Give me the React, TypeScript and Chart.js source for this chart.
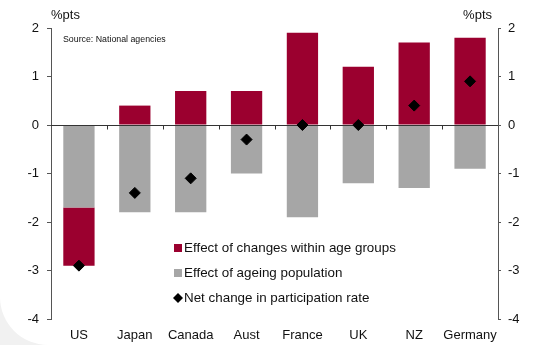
import React, { useEffect, useRef } from "react";
import { Chart, registerables } from "chart.js";

Chart.register(...registerables);

const countries = ["US", "Japan", "Canada", "Aust", "France", "UK", "NZ", "Germany"];
const withinAgeGroups = [-1.2, 0.4, 0.7, 0.7, 1.9, 1.2, 1.7, 1.8];
const ageingPopulation = [-1.7, -1.8, -1.8, -1.0, -1.9, -1.2, -1.3, -0.9];
const netChange = [-2.9, -1.4, -1.1, -0.3, 0.0, 0.0, 0.4, 0.9];
const yTicks = [-4, -3, -2, -1, 0, 1, 2];

const RED = "#9b002f";
const GREY = "#a6a6a6";
const FONT = "'Liberation Sans', Arial, sans-serif";

const legendItems = [
  { label: "Effect of changes within age groups", color: RED, kind: "square" },
  { label: "Effect of ageing population", color: GREY, kind: "square" },
  { label: "Net change in participation rate", color: "#000", kind: "diamond" },
];

const decorPlugin = {
  id: "decor",
  beforeDatasetDraw(chart: any, args: any) {
    if (args.index !== 0) return;
    const { ctx, chartArea, scales } = chart;
    const y0 = Math.round(scales.y.getPixelForValue(0)) + 0.5;
    ctx.save();
    ctx.strokeStyle = "#333";
    ctx.lineWidth = 1;
    ctx.beginPath();
    ctx.moveTo(chartArea.left, y0);
    ctx.lineTo(chartArea.right, y0);
    // category boundary tick marks hanging below the zero line
    for (let i = 0; i < countries.length - 1; i++) {
      const x = Math.round((scales.x.getPixelForValue(i) + scales.x.getPixelForValue(i + 1)) / 2) + 0.5;
      ctx.moveTo(x, y0);
      ctx.lineTo(x, y0 + 4);
    }
    ctx.stroke();
    ctx.restore();
  },
  afterDraw(chart: any) {
    const { ctx, chartArea } = chart;
    ctx.save();
    ctx.fillStyle = "#111";
    ctx.textBaseline = "middle";
    ctx.font = `13px ${FONT}`;
    ctx.textAlign = "left";
    ctx.fillText("%pts", chartArea.left, 15);
    ctx.textAlign = "right";
    ctx.fillText("%pts", chartArea.right - 6, 15);

    ctx.textAlign = "left";
    ctx.font = `8.8px ${FONT}`;
    ctx.fillText("Source: National agencies", chartArea.left + 12, 40);

    // legend inside the plot area
    const lx = 173;
    let ly = 248;
    ctx.font = `13.4px ${FONT}`;
    legendItems.forEach((it) => {
      ctx.fillStyle = it.color;
      if (it.kind === "square") {
        ctx.fillRect(lx + 1, ly - 4, 8, 8);
      } else {
        ctx.beginPath();
        ctx.moveTo(lx + 5, ly - 5);
        ctx.lineTo(lx + 10, ly);
        ctx.lineTo(lx + 5, ly + 5);
        ctx.lineTo(lx, ly);
        ctx.closePath();
        ctx.fill();
      }
      ctx.fillStyle = "#111";
      ctx.fillText(it.label, lx + 11, ly);
      ly += 25;
    });
    ctx.restore();
  },
};

export default function App() {
  const canvasRef = useRef<HTMLCanvasElement | null>(null);

  useEffect(() => {
    if (!canvasRef.current) return;
    const tickFont = { family: FONT, size: 13 };
    const chart = new Chart(canvasRef.current, {
      type: "bar",
      data: {
        labels: countries,
        datasets: [
          {
            type: "line",
            label: "Net change in participation rate",
            data: netChange,
            stack: "net",
            showLine: false,
            pointStyle: "rectRot",
            pointRadius: 5.5,
            pointBackgroundColor: "#000",
            pointBorderColor: "#000",
            borderColor: "#000",
            backgroundColor: "#000",
          } as any,
          {
            label: "Effect of ageing population",
            data: ageingPopulation,
            stack: "bars",
            backgroundColor: GREY,
            categoryPercentage: 1,
            barPercentage: 0.56,
          },
          {
            label: "Effect of changes within age groups",
            data: withinAgeGroups,
            stack: "bars",
            backgroundColor: RED,
            categoryPercentage: 1,
            barPercentage: 0.56,
          },
        ],
      },
      options: {
        responsive: false,
        animation: false,
        layout: { padding: { top: 28, left: 0, right: 0, bottom: 0 } },
        plugins: { legend: { display: false }, tooltip: { enabled: false } },
        scales: {
          x: {
            stacked: true,
            grid: { display: false, drawTicks: false },
            border: { display: false },
            ticks: { font: tickFont, color: "#111", padding: 9, maxRotation: 0, autoSkip: false },
            afterFit(scale: any) {
              scale.height = 26;
            },
          },
          y: {
            stacked: true,
            position: "left",
            min: -4,
            max: 2,
            afterBuildTicks(scale: any) {
              scale.ticks = yTicks.map((v) => ({ value: v }));
            },
            grid: { drawOnChartArea: false, drawTicks: true, tickLength: 4, color: "#555" },
            border: { display: true, color: "#555", width: 1 },
            ticks: { font: tickFont, color: "#111", padding: 8 },
            afterFit(scale: any) {
              scale.width = 51;
            },
          },
          y2: {
            position: "right",
            min: -4,
            max: 2,
            afterBuildTicks(scale: any) {
              scale.ticks = yTicks.map((v) => ({ value: v }));
            },
            grid: { drawOnChartArea: false, drawTicks: true, tickLength: 3, color: "#555" },
            border: { display: true, color: "#555", width: 1 },
            ticks: { font: tickFont, color: "#111", padding: 7 },
            afterFit(scale: any) {
              scale.width = 41;
            },
          },
        },
      },
      plugins: [decorPlugin],
    });
    return () => chart.destroy();
  }, []);

  return (
    <div
      style={{
        position: "fixed",
        left: 0,
        top: 0,
        width: 539,
        height: 345,
        background: "#f1f1f1",
      }}
    >
      <div
        style={{
          position: "absolute",
          inset: 0,
          background: "#fff",
          borderBottomLeftRadius: 48,
        }}
      >
        <canvas ref={canvasRef} width={539} height={345} style={{ display: "block" }} />
      </div>
    </div>
  );
}
